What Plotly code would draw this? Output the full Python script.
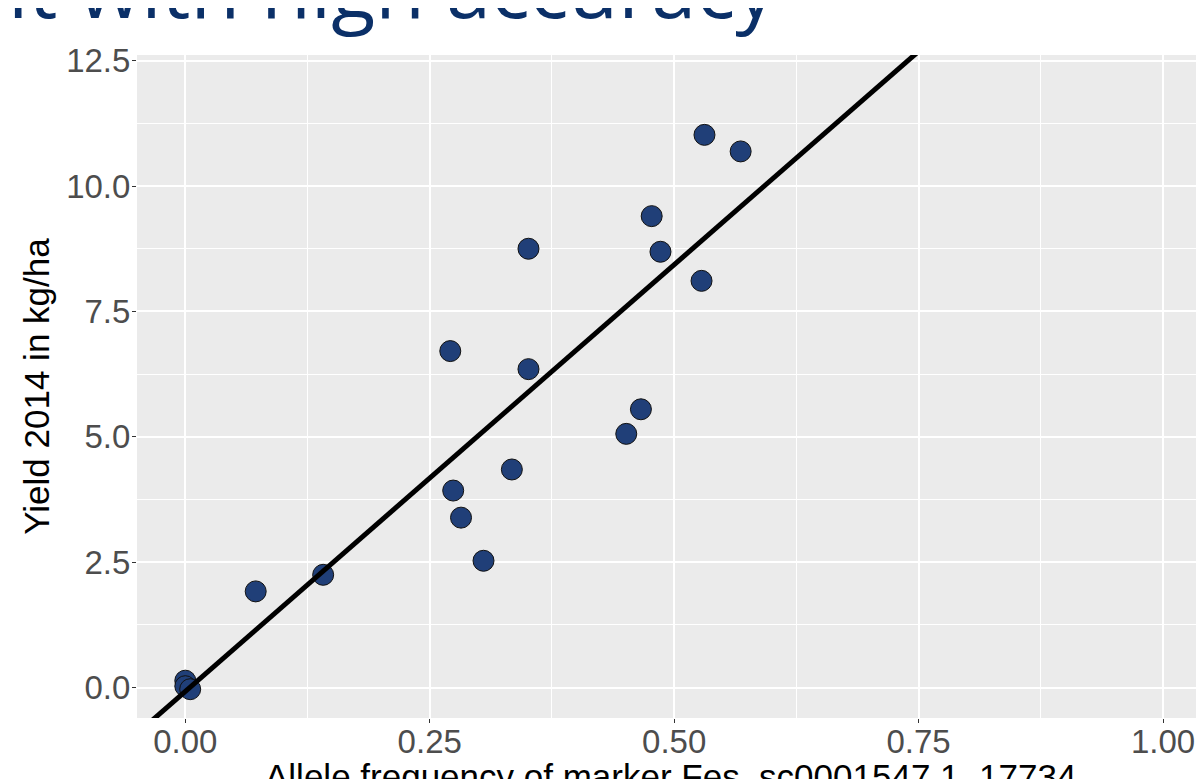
import numpy as np
import plotly.graph_objects as go

# ---- data ----
allele_freq = [0.0, 0.0, 0.005, 0.072, 0.141, 0.271, 0.274, 0.282, 0.305, 0.334,
               0.351, 0.351, 0.451, 0.466, 0.477, 0.486, 0.528, 0.531, 0.568]
yield_2014 = [0.14, 0.03, -0.03, 1.92, 2.25, 6.71, 3.93, 3.39, 2.53, 4.35,
              8.75, 6.35, 5.06, 5.55, 9.40, 8.69, 8.11, 11.02, 10.69]

x_ticks = [0.0, 0.25, 0.5, 0.75, 1.0]
x_tick_labels = ["0.00", "0.25", "0.50", "0.75", "1.00"]
x_minor = [0.125, 0.375, 0.625, 0.875]
y_ticks = [0.0, 2.5, 5.0, 7.5, 10.0, 12.5]
y_tick_labels = ["0.0", "2.5", "5.0", "7.5", "10.0", "12.5"]
y_minor = [1.25, 3.75, 6.25, 8.75, 11.25]

x_range = [-0.0494, 1.0419]
y_range = [-0.604, 12.612]

x_title = "Allele frequency of marker Fes_sc0001547.1_17734"
y_title = "Yield 2014 in kg/ha"
slide_title = "it with high accuracy"

# ---- linear fit (drawn across the whole panel, like geom_abline) ----
slope, intercept = np.polyfit(allele_freq, yield_2014, 1)
line_x = np.array([x_range[0] - 0.05, x_range[1] + 0.05])
line_y = intercept + slope * line_x

fig = go.Figure()
fig.add_trace(go.Scatter(
    x=allele_freq, y=yield_2014, mode="markers",
    marker=dict(size=21, color="#203f78", line=dict(color="#111111", width=1)),
    showlegend=False, hoverinfo="x+y"))
fig.add_trace(go.Scatter(
    x=line_x, y=line_y, mode="lines",
    line=dict(color="black", width=5),
    showlegend=False, hoverinfo="skip"))

tick_font = dict(family="Liberation Sans, Arial, sans-serif", size=33, color="#4D4D4D")
title_font = dict(family="Liberation Sans, Arial, sans-serif", size=35, color="black")

# the page body adds an 8px offset, so the figure is 8px smaller than the window
fig.update_layout(
    width=1196, height=771,
    margin=dict(l=129, r=0, t=47, b=61),
    paper_bgcolor="white", plot_bgcolor="#EBEBEB",
    xaxis=dict(
        range=x_range, tickvals=x_ticks, ticktext=x_tick_labels,
        ticks="outside", ticklen=4, tickwidth=1.2, tickcolor="#333333",
        tickfont=tick_font, ticklabelstandoff=-10,
        showgrid=True, gridcolor="white", gridwidth=1.8,
        zeroline=False, showline=False,
        minor=dict(tickvals=x_minor, showgrid=True, gridcolor="white", gridwidth=1, ticks=""),
        automargin=False,
    ),
    yaxis=dict(
        range=y_range, tickvals=y_ticks, ticktext=y_tick_labels,
        ticks="outside", ticklen=4, tickwidth=1.2, tickcolor="#333333",
        tickfont=tick_font, ticklabelstandoff=-5,
        showgrid=True, gridcolor="white", gridwidth=1.8,
        zeroline=False, showline=False,
        minor=dict(tickvals=y_minor, showgrid=True, gridcolor="white", gridwidth=1, ticks=""),
        title=dict(text=y_title, font=title_font, standoff=5),
        automargin=False,
    ),
    annotations=[
        dict(text=slide_title, xref="paper", yref="paper",
             x=-0.1228, y=1.0166, xanchor="left", yanchor="bottom",
             showarrow=False,
             font=dict(family="Open Sans, sans-serif", size=81, color="#0b3068")),
        # x-axis title (partly below the page edge, as in the reference)
        dict(text=x_title, xref="paper", yref="paper",
             x=0.5, y=0, xanchor="center", yanchor="top", yshift=-37,
             showarrow=False, font=title_font),
    ],
)

fig.write_html("out.html")
